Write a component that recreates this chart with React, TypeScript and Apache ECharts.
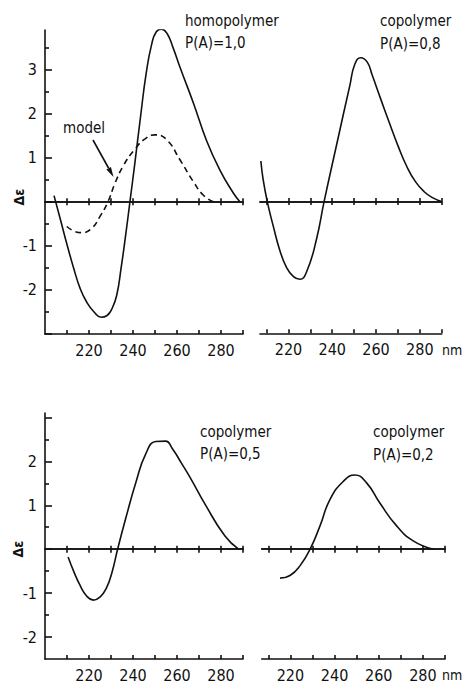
import React, { useEffect, useRef } from "react";
import * as echarts from "echarts";

// ---- data (wavelength nm, Δε) ----
const homopolymer10: [number, number][] = [
  [204.1, 0.14], [207.0, -0.4], [210.0, -0.97], [213.0, -1.5], [216.0, -1.97],
  [219.0, -2.28], [222.3, -2.5], [225.5, -2.62], [228.2, -2.58], [230.5, -2.42],
  [232.6, -2.12], [234.6, -1.5], [236.6, -0.78], [238.6, 0], [240.9, 0.9],
  [243.4, 1.92], [246.0, 2.92], [248.5, 3.58], [250.6, 3.86], [253.0, 3.92],
  [255.5, 3.82], [258.2, 3.5], [261.4, 3.05], [267.4, 2.25], [273.5, 1.38],
  [279.5, 0.72], [285.6, 0.2], [288.6, 0],
];
const model10: [number, number][] = [
  [209.9, -0.56], [213.0, -0.66], [216.7, -0.7], [221.2, -0.6], [225.0, -0.33],
  [228.6, 0], [231.8, 0.42], [235.6, 0.82], [240.9, 1.2], [245.5, 1.43],
  [250.0, 1.52], [255.3, 1.41], [261.4, 0.95], [267.4, 0.46], [272.0, 0.15], [276.5, 0],
];
const copolymer08: [number, number][] = [
  [207.4, 0.92], [208.4, 0.51], [210.3, 0], [213.0, -0.55], [216.1, -1.12],
  [219.1, -1.5], [222.3, -1.71], [225.2, -1.77], [228.3, -1.6], [232.8, -0.86],
  [236.3, 0], [242.0, 1.29], [248.0, 2.63], [250.3, 3.12], [253.0, 3.27],
  [256.0, 3.17], [258.2, 2.88], [262.0, 2.35], [266.0, 1.8], [270.0, 1.27],
  [274.0, 0.8], [278.0, 0.45], [282.0, 0.22], [286.0, 0.08], [289.9, 0],
];
const copolymer05: [number, number][] = [
  [210.5, -0.18], [213.0, -0.5], [215.9, -0.82], [219.0, -1.07], [222.0, -1.16],
  [225.0, -1.09], [227.8, -0.9], [230.5, -0.52], [233.0, 0], [236.8, 0.72],
  [241.3, 1.52], [245.8, 2.17], [250.3, 2.45], [254.8, 2.46], [258.0, 2.28],
  [262.0, 1.96], [266.0, 1.63], [272.8, 1.02], [281.8, 0.3], [288.0, 0],
];
const copolymer02: [number, number][] = [
  [215.3, -0.66], [219.8, -0.6], [224.3, -0.38], [228.9, 0], [233.4, 0.53],
  [237.9, 1.13], [243.9, 1.54], [249.2, 1.69], [254.5, 1.51], [260.5, 1.05],
  [268.1, 0.53], [275.6, 0.19], [284.7, 0],
];

const xTickValues = [210, 220, 230, 240, 250, 260, 270, 280, 290];
const xLabelValues = [220, 240, 260, 280];
const yLabelsTop = [-2, -1, 1, 2, 3];
const yLabelsBottom = [-2, -1, 1, 2];
const yMajorTop = [-3, -2, -1, 0, 1, 2, 3];
const yMinorTop = [-2.5, -1.5, -0.5, 0.5, 1.5, 2.5, 3.5];
const yMajorBottom = [-2, -1, 0, 1, 2, 3];
const yMinorBottom = [-1.5, -0.5, 0.5, 1.5, 2.5];

const FONT = "'Liberation Sans Narrow', 'DejaVu Sans Condensed', 'Roboto Condensed', Roboto, sans-serif";
const INK = "#111";
const LW = 1.6;

export default function App() {
  const ref = useRef<HTMLDivElement>(null);
  useEffect(() => {
    if (!ref.current) return;
    const chart = echarts.init(ref.current, undefined, { renderer: "svg" });

    const grids = [
      { left: 45, top: 30, width: 198, height: 304, xmin: 200, ymin: -3, ymax: 3.9, yAxisShow: true, major: yMajorTop, minor: yMinorTop, labels: yLabelsTop },
      { left: 260, top: 30, width: 181.7, height: 303.3, xmin: 207, ymin: -3, ymax: 3.9, yAxisShow: false, major: yMajorTop, minor: yMinorTop, labels: yLabelsTop },
      { left: 45, top: 413, width: 198, height: 248.7, xmin: 200, ymin: -2.5, ymax: 3.1, yAxisShow: true, major: yMajorBottom, minor: yMinorBottom, labels: yLabelsBottom },
      { left: 261.7, top: 413, width: 183.3, height: 249.7, xmin: 207, ymin: -2.5, ymax: 3.1, yAxisShow: false, major: yMajorBottom, minor: yMinorBottom, labels: yLabelsBottom },
    ];

    const xAxes: any[] = [];
    const yAxes: any[] = [];
    grids.forEach((g, i) => {
      const common = { type: "value", gridIndex: i, min: g.xmin, max: 290, splitLine: { show: false } };
      xAxes.push({
        ...common,
        position: "bottom",
        axisLine: { onZero: false, lineStyle: { color: INK, width: LW } },
        axisTick: { inside: true, length: 4, customValues: xTickValues, lineStyle: { color: INK, width: LW } },
        axisLabel: { customValues: xLabelValues, fontSize: 16, color: INK, fontFamily: FONT, margin: 8 },
      });
      xAxes.push({
        ...common,
        position: "bottom",
        axisLine: { onZero: true, lineStyle: { color: INK, width: LW } },
        axisTick: { inside: true, length: 3.5, customValues: xTickValues, lineStyle: { color: INK, width: LW } },
        axisLabel: { show: false },
      });
      xAxes.push({
        ...common,
        position: "bottom",
        axisLine: { onZero: true, lineStyle: { color: INK, width: LW } },
        axisTick: { inside: false, length: 3.5, customValues: xTickValues, lineStyle: { color: INK, width: LW } },
        axisLabel: { show: false },
      });
      yAxes.push({
        type: "value", gridIndex: i, min: g.ymin, max: g.ymax, position: "left",
        show: g.yAxisShow,
        splitLine: { show: false },
        axisLine: { show: true, onZero: false, lineStyle: { color: INK, width: LW } },
        axisTick: { inside: true, length: 7, customValues: g.major, lineStyle: { color: INK, width: LW } },
        axisLabel: { customValues: g.labels, fontSize: 16, color: INK, fontFamily: FONT, margin: 8 },
      });
      yAxes.push({
        type: "value", gridIndex: i, min: g.ymin, max: g.ymax, position: "left",
        show: g.yAxisShow,
        splitLine: { show: false },
        axisLine: { show: false, onZero: false },
        axisTick: { inside: true, length: 4, customValues: g.minor, lineStyle: { color: INK, width: LW } },
        axisLabel: { show: false },
      });
    });

    const line = (name: string, data: [number, number][], gi: number, dashed = false) => ({
      name,
      type: "line",
      xAxisIndex: gi * 3,
      yAxisIndex: gi * 2,
      data,
      smooth: 0.5,
      showSymbol: false,
      symbol: "none",
      lineStyle: { color: INK, width: LW, type: dashed ? [6, 4] : "solid" },
      z: 5,
    });

    const txt = (text: string, x: number, y: number, extra: any = {}) => ({
      type: "text",
      x, y,
      style: { text, fontSize: 15, fontFamily: FONT, fill: INK, textVerticalAlign: "middle", ...extra },
    });

    // arrow geometry
    const tip = [113.5, 177];
    const tail = [93, 140];
    const dx = tip[0] - tail[0], dy = tip[1] - tail[1];
    const len = Math.hypot(dx, dy);
    const ux = dx / len, uy = dy / len;
    const base = [tip[0] - 10 * ux, tip[1] - 10 * uy];
    const px = -uy * 2.6, py = ux * 2.6;

    chart.setOption({
      animation: false,
      backgroundColor: "#fff",
      grid: grids.map((g) => ({ left: g.left, top: g.top, width: g.width, height: g.height, containLabel: false })),
      xAxis: xAxes,
      yAxis: yAxes,
      series: [
        line("homopolymer P(A)=1,0", homopolymer10, 0),
        line("model", model10, 0, true),
        line("copolymer P(A)=0,8", copolymer08, 1),
        line("copolymer P(A)=0,5", copolymer05, 2),
        line("copolymer P(A)=0,2", copolymer02, 3),
      ],
      graphic: [
        txt("homopolymer", 185, 21),
        txt("P(A)=1,0", 185, 43),
        txt("copolymer", 380, 21),
        txt("P(A)=0,8", 380, 44),
        txt("copolymer", 200, 432),
        txt("P(A)=0,5", 200, 454),
        txt("copolymer", 373, 432),
        txt("P(A)=0,2", 373, 455),
        txt("model", 63, 128),
        txt("nm", 442, 350, { fontSize: 14 }),
        txt("nm", 442, 675, { fontSize: 14 }),
        { type: "text", x: 19, y: 197, rotation: Math.PI / 2, style: { text: "Δε", fontSize: 14, fontWeight: "bold", fontFamily: FONT, fill: INK, textAlign: "center", textVerticalAlign: "middle" } },
        { type: "text", x: 18, y: 549, rotation: Math.PI / 2, style: { text: "Δε", fontSize: 14, fontWeight: "bold", fontFamily: FONT, fill: INK, textAlign: "center", textVerticalAlign: "middle" } },
        { type: "line", shape: { x1: tail[0], y1: tail[1], x2: base[0], y2: base[1] }, style: { stroke: INK, lineWidth: 1.6 } },
        { type: "polygon", shape: { points: [[tip[0], tip[1]], [base[0] + px, base[1] + py], [base[0] - px, base[1] - py]] }, style: { fill: INK } },
      ],
    });
    return () => chart.dispose();
  }, []);
  return <div ref={ref} style={{ position: "fixed", left: 0, top: 0, width: 463, height: 683, background: "#fff" }} />;
}
